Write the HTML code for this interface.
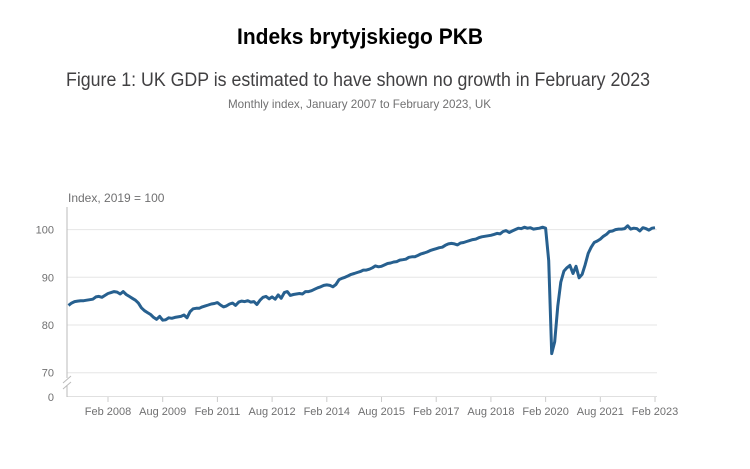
<!DOCTYPE html>
<html><head><meta charset="utf-8"><style>
html,body{margin:0;padding:0;background:#fff;}
svg{display:block;font-family:"Liberation Sans",sans-serif;}
</style></head><body>
<svg id="chart" width="750" height="469" viewBox="0 0 750 469">
<text x="360" y="44" text-anchor="middle" font-size="22" font-weight="bold" fill="#000" textLength="246" lengthAdjust="spacingAndGlyphs">Indeks brytyjskiego PKB</text>
<text x="66" y="86" font-size="19" fill="#414042" textLength="584" lengthAdjust="spacingAndGlyphs">Figure 1: UK GDP is estimated to have shown no growth in February 2023</text>
<text x="228" y="108" font-size="12" fill="#707071" textLength="263" lengthAdjust="spacingAndGlyphs">Monthly index, January 2007 to February 2023, UK</text>
<text x="68" y="202" font-size="12" fill="#707071">Index, 2019 = 100</text>
<g id="grid"></g><g id="axes"></g>
<path id="line" fill="none" stroke="#27608f" stroke-width="3" stroke-linejoin="round"/>
</svg>
<script>
const yTicks=[70,80,90,100];
const xTickLabels=["Feb 2008","Aug 2009","Feb 2011","Aug 2012","Feb 2014","Aug 2015","Feb 2017","Aug 2018","Feb 2020","Aug 2021","Feb 2023"];
const xTickMonths=[13,31,49,67,85,103,121,139,157,175,193];
const gdp=[
84.1,84.6,84.9,85.0,85.1,85.1,85.2,85.3,85.4,85.9,86.0,85.8,
86.2,86.6,86.8,87.0,86.9,86.5,87.0,86.4,86.0,85.6,85.2,84.6,
83.6,83.0,82.6,82.2,81.6,81.2,81.8,81.0,81.1,81.5,81.4,81.6,
81.7,81.8,82.1,81.5,82.8,83.4,83.5,83.5,83.8,84.0,84.2,84.4,
84.5,84.7,84.2,83.8,84.0,84.4,84.6,84.1,84.8,85.0,84.9,85.1,
84.8,84.9,84.3,85.2,85.8,86.0,85.5,85.9,85.4,86.3,85.6,86.8,
87.0,86.2,86.4,86.5,86.6,86.5,87.0,87.0,87.2,87.5,87.8,88.0,
88.3,88.4,88.3,88.0,88.5,89.5,89.8,90.0,90.3,90.6,90.8,91.0,
91.2,91.5,91.5,91.7,92.0,92.4,92.2,92.3,92.6,92.9,93.0,93.2,
93.3,93.6,93.7,93.8,94.2,94.3,94.3,94.6,94.9,95.1,95.3,95.6,
95.8,96.0,96.2,96.3,96.7,97.0,97.1,97.0,96.8,97.2,97.3,97.5,
97.7,97.9,98.0,98.3,98.5,98.6,98.7,98.8,99.0,99.2,99.1,99.6,
99.8,99.4,99.7,100.0,100.3,100.2,100.5,100.3,100.4,100.1,100.2,100.3,
100.5,100.3,93.5,74.0,76.5,84.0,89.0,91.3,92.0,92.5,90.8,92.3,
89.9,90.6,92.6,95.0,96.3,97.3,97.6,98.0,98.6,99.0,99.6,99.7,
100.0,100.1,100.1,100.2,100.8,100.1,100.3,100.2,99.7,100.4,100.2,99.9,
100.3,100.4];
const NS="http://www.w3.org/2000/svg";
const x=m=>68.5+m*3.039;
const y=v=>325-(v-80)*4.77;
const grid=document.getElementById('grid'), axes=document.getElementById('axes');
function mk(tag,attrs,parent){const e=document.createElementNS(NS,tag);for(const k in attrs)e.setAttribute(k,attrs[k]);parent.appendChild(e);return e;}
yTicks.forEach(v=>{
  const l=mk('line',{x1:67,x2:657,y1:y(v),y2:y(v),stroke:'#e6e6e6','stroke-width':1},grid);
  
  
  const t=mk('text',{x:54,y:y(v)+4,'text-anchor':'end','font-size':11,fill:'#707071'},axes);
  t.textContent=v;
  
  
});
const z=mk('text',{x:54,y:401,'text-anchor':'end','font-size':11,fill:'#707071'},axes);z.textContent='0';


const base=mk('line',{x1:67,x2:657,y1:396.5,y2:396.5,stroke:'#e0e0e0','stroke-width':1},grid);


const ya=mk('path',{d:'M67,207V378 M67,385V397 M63,383 L71,376 M63,389 L71,382',stroke:'#bbb','stroke-width':1,fill:'none'},axes);


xTickMonths.forEach((m,i)=>{
  const tk=mk('line',{x1:x(m),x2:x(m),y1:397,y2:402,stroke:'#ccc'},axes);
  
  
  const t=mk('text',{x:x(m),y:415,'text-anchor':'middle','font-size':11,fill:'#707071'},axes);
  t.textContent=xTickLabels[i];
  
  
});
document.getElementById('line').setAttribute('d',gdp.map((v,i)=>(i?'L':'M')+x(i).toFixed(1)+','+y(v).toFixed(1)).join(''));
</script>
</body></html>
